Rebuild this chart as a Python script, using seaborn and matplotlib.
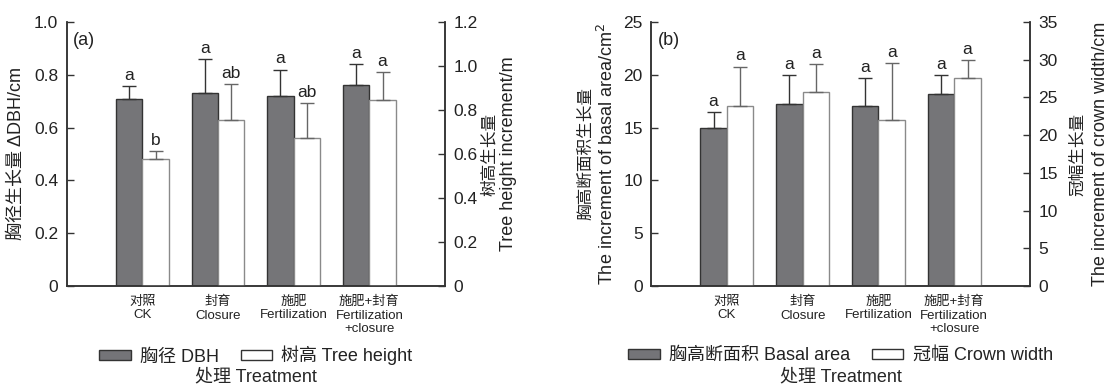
import numpy as np
import pandas as pd
import matplotlib
matplotlib.use('Agg')
import matplotlib.pyplot as plt
from matplotlib.patches import Patch
import seaborn as sns

# categories (tick labels)
categories = ['对照\nCK', '封育\nClosure', '施肥\nFertilization', '施肥+封育\nFertilization\n+closure']

# panel (a)
dbh_mean = [0.71, 0.73, 0.72, 0.76]
dbh_err = [0.048, 0.13, 0.10, 0.082]
dbh_sig = ['a', 'a', 'a', 'a']
height_mean = [0.575, 0.756, 0.672, 0.847]
height_err = [0.038, 0.16, 0.158, 0.127]
height_sig = ['b', 'ab', 'ab', 'a']

# panel (b)
basal_mean = [15.0, 17.2, 17.0, 18.2]
basal_err = [1.5, 2.8, 2.7, 1.8]
basal_sig = ['a', 'a', 'a', 'a']
crown_mean = [23.8, 25.7, 22.0, 27.6]
crown_err = [5.3, 3.7, 7.6, 2.4]
crown_sig = ['a', 'a', 'a', 'a']

DARK = '#747478'
EDGE = '#333333'
LIGHT_EDGE = '#8a8a8a'

sns.set_style('ticks')
plt.rcParams['font.family'] = ['Liberation Sans', 'Noto Sans CJK SC', 'DejaVu Sans']
plt.rcParams['axes.edgecolor'] = EDGE
plt.rcParams['axes.linewidth'] = 1.1
plt.rcParams['text.color'] = '#222222'
plt.rcParams['xtick.color'] = '#222222'
plt.rcParams['ytick.color'] = '#222222'


def draw_series(ax, values, errors, sig, level, face, edge, err_color):
    df = pd.DataFrame({'cat': categories, 'val': values, 'grp': [level] * len(values)})
    sns.barplot(data=df, x='cat', y='val', hue='grp', hue_order=['left', 'right'],
                order=categories, dodge=True, width=0.7, errorbar=None,
                palette={'left': face, 'right': face}, edgecolor=edge,
                linewidth=1.0, legend=False, ax=ax)
    bars = [p for p in ax.patches if p.get_height() > 0]
    xs = np.array([b.get_x() + b.get_width() / 2 for b in bars])
    ys = np.array([b.get_height() for b in bars])
    ax.errorbar(xs, ys, yerr=[np.zeros(len(ys)), errors], fmt='none',
                ecolor=err_color, elinewidth=1.0, capsize=5, capthick=1.0)
    ymax = ax.get_ylim()[1]
    for x, y, e, s in zip(xs, ys, errors, sig):
        ax.text(x, y + e + ymax * 0.012, s, ha='center', va='bottom', fontsize=12.5)


def make_panel(rect, tag, left_vals, right_vals, left_lim, right_lim, left_ticks, right_ticks,
               left_label, right_label, legend_labels, left_fmt, right_fmt):
    ax = fig.add_axes(rect)
    ax2 = ax.twinx()
    ax.set_ylim(*left_lim)
    ax2.set_ylim(*right_lim)

    draw_series(ax, *left_vals, 'left', DARK, EDGE, EDGE)
    draw_series(ax2, *right_vals, 'right', 'white', LIGHT_EDGE, '#666666')

    for a in (ax, ax2):
        a.spines['top'].set_visible(False)
        a.set_xlabel('')
        a.set_ylabel('')
    ax.set_xlim(-1, 4)
    ax.set_ylim(*left_lim)
    ax2.set_ylim(*right_lim)
    ax.set_yticks(left_ticks)
    ax.set_yticklabels([left_fmt(t) for t in left_ticks], fontsize=12.5)
    ax2.set_yticks(right_ticks)
    ax2.set_yticklabels([right_fmt(t) for t in right_ticks], fontsize=12.5)
    ax.tick_params(axis='y', direction='in', length=5, width=1.0, color=EDGE, pad=6)
    ax2.tick_params(axis='y', direction='in', length=5, width=1.0, color=EDGE, pad=6)
    ax.tick_params(axis='x', length=0, pad=7)
    ax.set_xticks(range(len(categories)))
    ax.set_xticklabels(categories, fontsize=9.5, linespacing=1.18)
    ax.set_xlabel('处理 Treatment', fontsize=13)
    ax.xaxis.set_label_coords(0.5, -0.312)

    # y labels: (x position in axes coords, text, size)
    for x, txt, size in left_label + right_label:
        ax.text(x, 0.5, txt, transform=ax.transAxes, rotation=90, ha='center', va='center',
                fontsize=size)
    ax.text(0.017, 0.962, tag, transform=ax.transAxes, fontsize=13, va='top', ha='left')

    handles = [Patch(facecolor=DARK, edgecolor=EDGE, linewidth=1.0),
               Patch(facecolor='white', edgecolor=EDGE, linewidth=1.0)]
    ax.legend(handles, legend_labels, loc='center', bbox_to_anchor=(0.5, -0.264),
              ncol=2, frameon=False, fontsize=13, handlelength=1.75, handleheight=0.5,
              handletextpad=0.5, columnspacing=1.2, borderaxespad=0, borderpad=0)
    return ax, ax2


fig = plt.figure(figsize=(11.15, 3.88), dpi=100)

make_panel([0.0598, 0.2629, 0.3393, 0.6804], '(a)',
           (dbh_mean, dbh_err, dbh_sig), (height_mean, height_err, height_sig),
           (0, 1.0), (0, 1.2), [0, 0.2, 0.4, 0.6, 0.8, 1.0], [0, 0.2, 0.4, 0.6, 0.8, 1.0, 1.2],
           [(-0.134, '胸径生长量 ΔDBH/cm', 13)],
           [(1.116, '树高生长量', 12), (1.167, 'Tree height increment/m', 13)],
           ['胸径 DBH', '树高 Tree height'],
           lambda t: '0' if t == 0 else f'{t:.1f}', lambda t: '0' if t == 0 else f'{t:.1f}')

make_panel([0.5839, 0.2629, 0.3399, 0.6804], '(b)',
           (basal_mean, basal_err, basal_sig), (crown_mean, crown_err, crown_sig),
           (0, 25), (0, 35), [0, 5, 10, 15, 20, 25], [0, 5, 10, 15, 20, 25, 30, 35],
           [(-0.174, '胸高断面积生长量', 12), (-0.116, 'The increment of basal area/cm$^2$', 13)],
           [(1.124, '冠幅生长量', 12), (1.185, 'The increment of crown width/cm', 13)],
           ['胸高断面积 Basal area', '冠幅 Crown width'],
           lambda t: f'{t:d}', lambda t: f'{t:d}')

fig.savefig('out.png', dpi=100)
